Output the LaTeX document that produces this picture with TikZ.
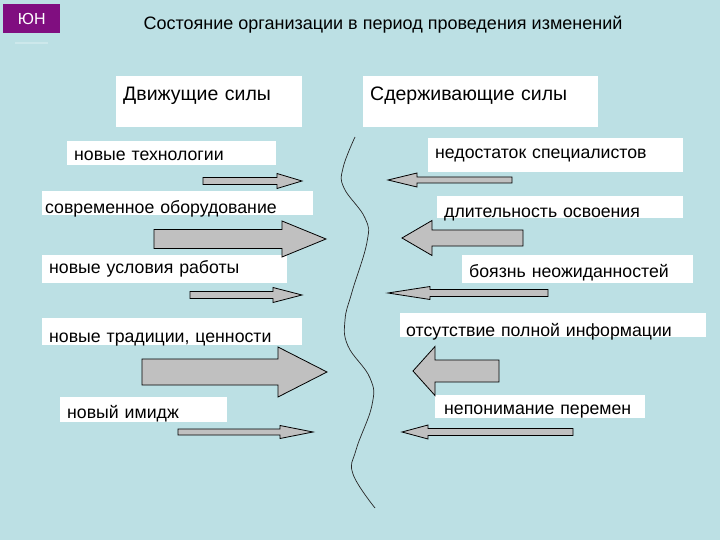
\documentclass[tikz,border=0pt]{standalone}
\usepackage{fontspec}
\setmainfont{Liberation Sans}

\definecolor{slidebg}{RGB}{188,224,228}
\definecolor{logopurple}{RGB}{128,14,128}
\definecolor{arrowgray}{RGB}{192,192,192}

% block arrow: tail x, neck x, tip x, mid y, shaft half, head half
\newcommand{\forcearrow}[6]{%
  \draw[forcearrow] (#1,#4-#5) -- (#2,#4-#5) -- (#2,#4-#6) -- (#3,#4)
    -- (#2,#4+#6) -- (#2,#4+#5) -- (#1,#4+#5) -- cycle;}

\tikzset{
  forcearrow/.style={fill=arrowgray,draw=black,line width=0.8pt,line join=miter},
  forcebox/.style={fill=white,anchor=north west,inner xsep=7pt,inner ysep=0pt,
    align=left,font=\fontsize{17.7}{21}\selectfont},
  headbox/.style={forcebox,font=\fontsize{19.5}{23}\selectfont,
    text height=24pt,text depth=27pt}
}

\begin{document}
\begin{tikzpicture}[x=1pt,y=-1pt]

  \fill[slidebg] (0,0) rectangle (720,540);
  \useasboundingbox (0,0) rectangle (720,540);

  % logo and title
  \node[fill=logopurple,text=white,anchor=north west,minimum width=57,minimum height=29,
    inner sep=0,font=\fontsize{16}{19}\selectfont] (logo) at (3,4) {ЮН};
  \draw[white!25!slidebg,line width=1.5pt] (15,43) -- (48,43);
  \node[font=\fontsize{18}{21}\selectfont,anchor=base] (title) at (383,30)
    {Состояние организации в период проведения изменений};

  % column headers
  \node[headbox,text width=172pt] (drive) at (116,76) {Движущие силы};
  \node[headbox,text width=221pt] (restrain) at (363,76) {Сдерживающие силы};

  % driving forces
  \node[forcebox,text width=195pt,text height=19pt,text depth=5pt] (tech) at (67,141) {новые технологии};
  \node[forcebox,inner xsep=3pt,text width=265pt,text height=22pt,text depth=2pt] (equip) at (42,191) {современное оборудование};
  \node[forcebox,text width=231pt,text height=18pt,text depth=10pt] (cond) at (42,255) {новые условия работы};
  \node[forcebox,text width=246pt,text height=24pt,text depth=3pt] (trad) at (42,318) {новые традиции, ценности};
  \node[forcebox,text width=153pt,text height=21pt,text depth=4pt] (image) at (60,397) {новый имидж};

  \forcearrow{203}{277}{302}{181}{3.5}{7.5}
  \forcearrow{154}{282}{326}{239}{9.5}{18}
  \forcearrow{190}{273}{302}{295}{3.5}{7.5}
  \forcearrow{142}{278}{327}{372}{13}{25}
  \forcearrow{178}{280}{313}{432}{3}{6.5}

  % restraining forces
  \node[forcebox,text width=241pt,text height=20pt,text depth=14pt] (lack) at (428,138) {недостаток специалистов};
  \node[forcebox,text width=232pt,text height=21pt,text depth=1pt] (slow) at (437,196) {длительность освоения};
  \node[forcebox,text width=217pt,text height=22pt,text depth=6pt] (fear) at (462,255) {боязнь неожиданностей};
  \node[forcebox,inner xsep=6pt,text width=294pt,text height=23pt,text depth=1pt] (info) at (400,313) {отсутствие полной информации};
  \node[forcebox,inner xsep=9pt,text width=192pt,text height=19pt,text depth=4pt] (misund) at (435,395) {непонимание перемен};

  \forcearrow{512}{417}{388}{180}{3}{7}
  \forcearrow{523}{432}{402}{238}{8}{17.5}
  \forcearrow{548}{430}{388}{293}{3.5}{6.5}
  \forcearrow{499}{435}{413}{371}{11}{24.5}
  \forcearrow{573}{428}{402}{432}{3.5}{7}

  % dividing line
  \draw[black!85,line width=0.7pt] plot[smooth,tension=0.7] coordinates {
    (355,137) (343,168) (344,188) (365,218) (367,242) (352,292) (345,320)
    (348,346) (370,378) (372,405) (356,450) (353,474) (375,508)};

\end{tikzpicture}
\end{document}
